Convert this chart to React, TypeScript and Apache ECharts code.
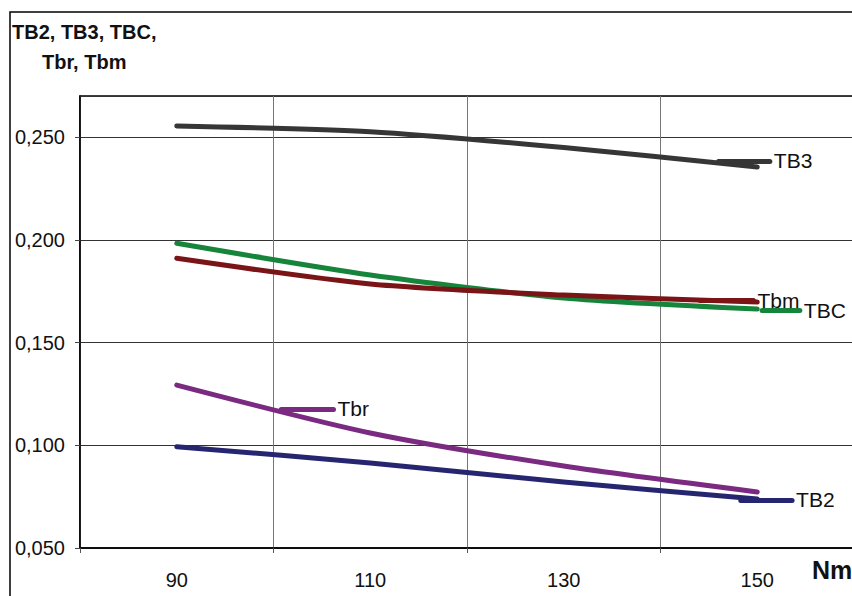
import React, { useEffect, useRef } from "react";
import * as echarts from "echarts";

const xValues = [90, 110, 130, 150];
const tb3 = [0.2554, 0.2526, 0.2449, 0.2354];
const tbc = [0.1983, 0.1829, 0.1717, 0.1663];
const tbm = [0.191, 0.1785, 0.1731, 0.1697];
const tbr = [0.1293, 0.106, 0.0899, 0.0773];
const tb2 = [0.0993, 0.0914, 0.0821, 0.0739];

const seriesNames = ["TB3", "TBC", "Tbm", "Tbr", "TB2"];
const seriesValues = [tb3, tbc, tbm, tbr, tb2];
const seriesColors = ["#363636", "#16843a", "#7a1416", "#7a2a80", "#262670"];
// label leader segments: [xStart, xEnd, y] in data units
const labelSegments = [
  [146.0, 151.3, 0.2384],
  [150.5, 154.4, 0.1658],
  [144.1, 149.6, 0.1707],
  [100.8, 106.2, 0.1177],
  [148.3, 153.6, 0.0734],
];

const yTickLabelFormat = (v: number) => v.toFixed(3).replace(".", ",");
const xLabelShown = [90, 110, 130, 150];

const FONT = "'Liberation Sans', Arial, sans-serif";

export default function App() {
  const ref = useRef<HTMLDivElement>(null);
  useEffect(() => {
    if (!ref.current) return;
    const chart = echarts.init(ref.current, undefined, { renderer: "svg" });
    const series = seriesNames.map((name, i) => ({
      name,
      type: "line",
      xAxisIndex: 0,
      smooth: 0.25,
      symbol: "none",
      data: xValues.map((x, j) => [x, seriesValues[i][j]]),
      lineStyle: { color: seriesColors[i], width: 5, cap: "round", join: "round" },
      itemStyle: { color: seriesColors[i] },
      z: 3,
      markLine: {
        silent: true,
        symbol: "none",
        animation: false,
        lineStyle: { color: seriesColors[i], width: 5, type: "solid", cap: "round" },
        label: {
          show: true,
          position: "end",
          formatter: name,
          fontSize: 21,
          color: "#111",
          fontFamily: FONT,
          distance: 4,
        },
        data: [
          [
            { coord: [labelSegments[i][0], labelSegments[i][2]] },
            { coord: [labelSegments[i][1], labelSegments[i][2]] },
          ],
        ],
      },
    }));
    chart.setOption({
      animation: false,
      textStyle: { fontFamily: FONT },
      grid: {
        left: 80,
        top: 96,
        right: 6,
        bottom: 48,
        outerBoundsMode: "none",
        show: true,
        borderColor: "#000",
        borderWidth: 1.5,
        backgroundColor: "transparent",
      },
      xAxis: [
        {
          type: "value",
          min: 80,
          max: 160,
          interval: 20,
          axisLine: { show: true, lineStyle: { color: "#000", width: 1.5 } },
          axisTick: { show: true, inside: false, length: 5, lineStyle: { color: "#555" } },
          axisLabel: { show: false },
          splitLine: { show: true, lineStyle: { color: "#777", width: 1 } },
        },
        {
          type: "value",
          min: 80,
          max: 160,
          interval: 10,
          position: "bottom",
          axisLine: { show: false },
          axisTick: { show: false },
          splitLine: { show: false },
          axisLabel: {
            show: true,
            fontSize: 20,
            color: "#111",
            fontFamily: FONT,
            margin: 22,
            formatter: (v: number) => (xLabelShown.indexOf(v) >= 0 ? String(v) : ""),
          },
        },
      ],
      yAxis: {
        type: "value",
        min: 0.05,
        max: 0.27,
        interval: 0.05,
        axisLine: { show: true, lineStyle: { color: "#000", width: 1.5 } },
        axisTick: { show: true, inside: false, length: 5, lineStyle: { color: "#444" } },
        axisLabel: {
          fontSize: 20,
          color: "#111",
          fontFamily: FONT,
          margin: 15,
          showMaxLabel: false,
          formatter: yTickLabelFormat,
        },
        splitLine: { show: true, lineStyle: { color: "#333", width: 1 } },
      },
      graphic: [
        {
          type: "rect",
          shape: { x: 10, y: 12, width: 1000, height: 1000 },
          style: { fill: "none", stroke: "#000", lineWidth: 1.5 },
          silent: true,
        },
        {
          type: "text",
          x: 12,
          y: 32,
          style: {
            text: "TB2, TB3, TBC,",
            font: `bold 20px ${FONT}`,
            fill: "#111",
            verticalAlign: "middle",
          },
        },
        {
          type: "text",
          x: 42,
          y: 62,
          style: {
            text: "Tbr, Tbm",
            font: `bold 20px ${FONT}`,
            fill: "#111",
            verticalAlign: "middle",
          },
        },
        {
          type: "text",
          x: 812,
          y: 570,
          style: {
            text: "Nm",
            font: `bold 25px ${FONT}`,
            fill: "#111",
            verticalAlign: "middle",
          },
        },
      ],
      series,
    });
    return () => chart.dispose();
  }, []);
  return (
    <div
      style={{
        position: "absolute",
        left: 0,
        top: 0,
        width: 852,
        height: 596,
        overflow: "hidden",
        background: "#fff",
      }}
    >
      <div ref={ref} style={{ width: 860, height: 596 }} />
    </div>
  );
}
